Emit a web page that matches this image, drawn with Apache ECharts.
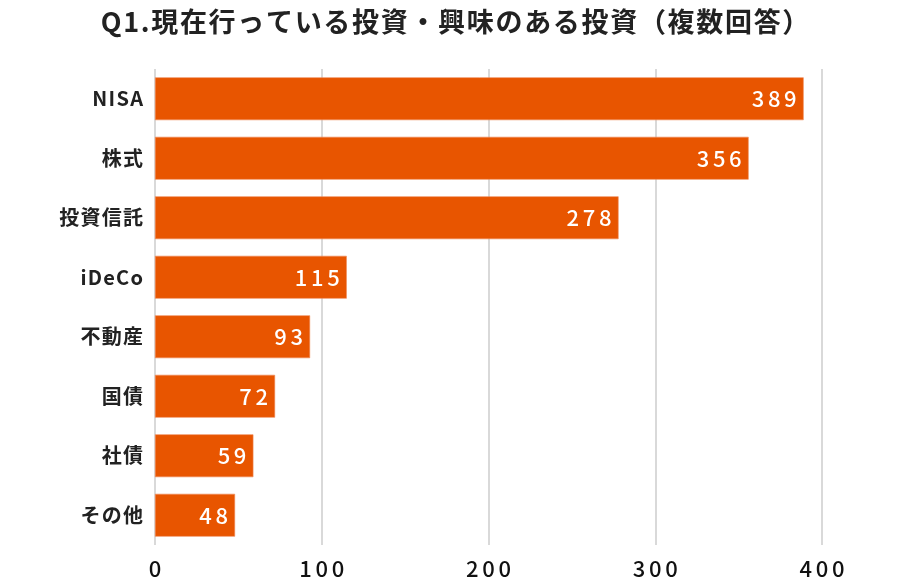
<!DOCTYPE html>
<html>
<head>
<meta charset="utf-8">
<script src="https://cdn.jsdelivr.net/npm/echarts@6/dist/echarts.min.js"></script>
<style>
  html, body { margin: 0; padding: 0; background: #fff; }
  #chart { width: 910px; height: 587px; }
</style>
</head>
<body>
<div id="chart"></div>
<script>
const categories = ['NISA', '株式', '投資信託', 'iDeCo', '不動産', '国債', '社債', 'その他'];
const values = [389, 356, 278, 115, 93, 72, 59, 48];
const xTicks = [0, 100, 200, 300, 400];

const font = '"Noto Sans CJK JP", "Noto Sans", sans-serif';
// the original text is slightly letter-spaced
const spaced = (s, sp) => String(s).split('').join(sp || '\u200a');
const digitGap = '\u2006';

const chart = echarts.init(document.getElementById('chart'));
chart.setOption({
  backgroundColor: '#fff',
  animation: false,
  title: {
    text: spaced('Q1.現在行っている投資・興味のある投資（複数回答）'),
    left: 'center',
    top: 3,
    textStyle: { fontFamily: font, fontSize: 27, fontWeight: 'bold', color: '#222' }
  },
  grid: { left: 155, right: 88, top: 69, bottom: 42 },
  xAxis: {
    type: 'value',
    min: xTicks[0],
    max: xTicks[xTicks.length - 1],
    interval: 100,
    axisLine: { show: false },
    axisTick: { show: false },
    splitLine: { lineStyle: { color: '#cccccc', width: 1.5 } },
    axisLabel: {
      fontFamily: font, fontSize: 22, fontWeight: 500, color: '#111', margin: 13,
      formatter: v => spaced(v, digitGap)
    }
  },
  yAxis: {
    type: 'category',
    data: categories,
    inverse: true,
    axisLine: { show: false },
    axisTick: { show: false },
    axisLabel: {
      fontFamily: font, fontSize: 20, fontWeight: 'bold', color: '#222', margin: 12,
      formatter: v => spaced(v)
    }
  },
  series: [{
    type: 'bar',
    data: values,
    barCategoryGap: '28%',
    itemStyle: { color: '#e85500', borderColor: '#f08a55', borderWidth: 0.6 },
    label: {
      show: true,
      position: 'insideRight',
      distance: 7,
      color: '#fff',
      fontFamily: font,
      fontSize: 22,
      fontWeight: 500,
      formatter: p => spaced(p.value, digitGap)
    }
  }]
});
</script>
</body>
</html>
